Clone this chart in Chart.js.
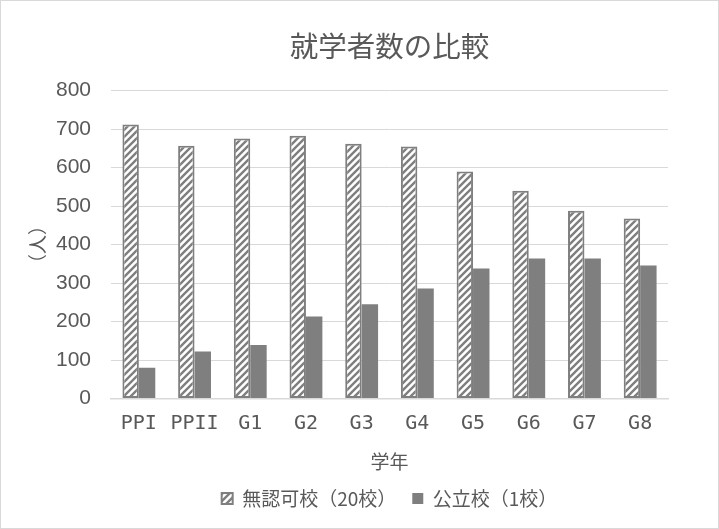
<!DOCTYPE html>
<html>
<head>
<meta charset="utf-8">
<script src="https://cdn.jsdelivr.net/npm/chart.js@4.4.1/dist/chart.umd.min.js"></script>
<style>
  html, body { margin: 0; padding: 0; background: #fff; }
  #wrap { width: 717px; height: 527px; border: 1px solid #d9d9d9; }
</style>
</head>
<body>
<div id="wrap"><canvas id="chart" width="717" height="527"></canvas></div>
<script>
// categories and values
const grades = ["PPI", "PPII", "G1", "G2", "G3", "G4", "G5", "G6", "G7", "G8"];
const unlicensed = [712, 657, 676, 683, 662, 655, 590, 540, 488, 468];
const publicSchool = [80, 122, 139, 213, 245, 286, 338, 364, 364, 346];
const seriesNames = ["無認可校（20校）", "公立校（1校）"];

const grey = "#7f7f7f";
const textGrey = "#595959";
const font = "'Noto Sans CJK JP', 'Noto Sans', sans-serif";
const monoFont = "'DejaVu Sans Mono', monospace";
const numFont = "'Liberation Sans', Arial, sans-serif";

// diagonal stripes for the first series
const makeHatch = () => {
    const c = document.createElement("canvas");
    c.width = 7;
    c.height = 7;
    const g = c.getContext("2d");
    g.fillStyle = "#fff";
    g.fillRect(0, 0, 7, 7);
    g.strokeStyle = grey;
    g.lineWidth = 2.4;
    g.beginPath();
    g.moveTo(-2, 9); g.lineTo(9, -2);
    g.moveTo(-9, 9); g.lineTo(2, -2);
    g.moveTo(5, 9); g.lineTo(16, -2);
    g.stroke();
    return g.createPattern(c, "repeat");
};
const hatch = makeHatch();

new Chart(document.getElementById("chart"), {
    type: "bar",
    data: {
        labels: grades,
        datasets: [
            {
                label: seriesNames[0],
                data: unlicensed,
                backgroundColor: hatch,
                borderColor: grey,
                borderWidth: 2,
                borderSkipped: false,
                barPercentage: 1,
                categoryPercentage: 0.59
            },
            {
                label: seriesNames[1],
                data: publicSchool,
                backgroundColor: grey,
                borderWidth: 0,
                barPercentage: 1,
                categoryPercentage: 0.59
            }
        ]
    },
    options: {
        responsive: false,
        animation: false,
        layout: { padding: { top: 10, right: 50, left: 10, bottom: 10 } },
        plugins: {
            tooltip: { enabled: false },
            title: {
                display: true,
                fullSize: false,
                text: "就学者数の比較",
                color: textGrey,
                font: { family: font, size: 28.5, weight: "normal" },
                padding: { top: 18.5, bottom: 27 }
            },
            legend: {
                position: "bottom",
                fullSize: false,
                labels: {
                    color: textGrey,
                    font: { family: font, size: 19 },
                    boxWidth: 11,
                    boxHeight: 11,
                    padding: 16
                }
            }
        },
        scales: {
            x: {
                grid: { display: false, drawTicks: false },
                border: { color: "#d9d9d9", width: 1.5 },
                ticks: {
                    color: textGrey,
                    font: { family: monoFont, size: 20 },
                    padding: 13,
                    maxRotation: 0,
                    minRotation: 0,
                    autoSkip: false
                },
                title: {
                    display: true,
                    text: "学年",
                    color: textGrey,
                    font: { family: font, size: 19 },
                    padding: { top: 11, bottom: 0 }
                },
                afterFit: (scale) => { scale.height = 74.5; }
            },
            y: {
                min: 0,
                max: 800,
                ticks: { stepSize: 100, color: textGrey, font: { family: numFont, size: 21 }, padding: 20 },
                grid: { color: "#d9d9d9", drawTicks: false },
                border: { display: false },
                title: {
                    display: true,
                    text: "（人）",
                    color: textGrey,
                    font: { family: font, size: 19 },
                    padding: { top: 15, bottom: 6 }
                },
                afterFit: (scale) => { scale.width = 100; }
            }
        }
    }
});
</script>
</body>
</html>
